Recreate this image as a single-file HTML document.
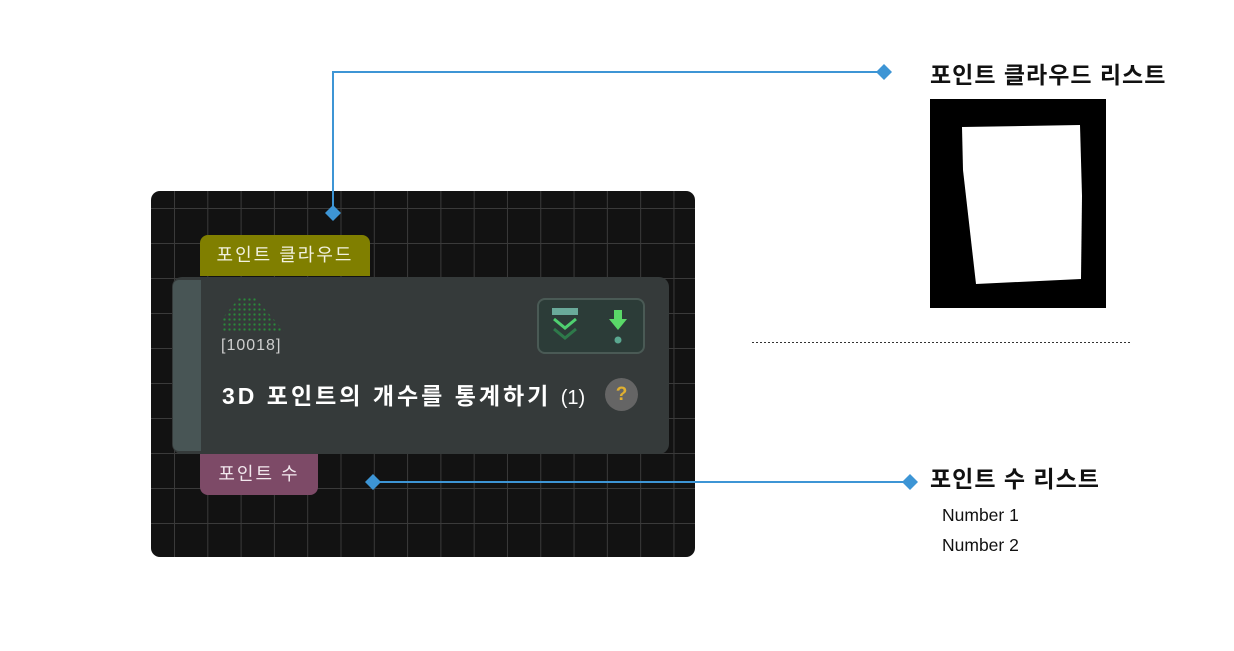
<!DOCTYPE html>
<html><head><meta charset="utf-8"><style>
body{margin:0;width:1234px;height:651px;background:#fff;position:relative;overflow:hidden;font-family:"Liberation Sans","Noto Sans CJK KR",sans-serif}
.a{position:absolute}
#panel{left:151px;top:191px;width:544px;height:366px;border-radius:9px;background-color:#121212;
background-image:linear-gradient(90deg,#3a3a3a 1px,transparent 1px),linear-gradient(#3a3a3a 1px,transparent 1px);
background-size:33.3px 35px;background-position:23px 17px;overflow:hidden}
</style></head><body>
<div id="panel" class="a"></div>
<div class="a" style="left:200px;top:235px;width:170px;height:41px;background:#807f00;border-radius:8px 8px 0 0;color:#f2f2e0;font-size:18px;letter-spacing:2px;line-height:40px;text-align:center">포인트 클라우드</div>
<div class="a" style="left:200px;top:454px;width:118px;height:41px;background:#7d4a67;border-radius:0 0 8px 8px;color:#f2e8ee;font-size:18px;letter-spacing:2px;line-height:40px;text-align:center">포인트 수</div>
<div class="a" style="left:172px;top:277px;width:497px;height:177px;background:#353a3a;border-radius:10px;overflow:hidden">
 <div class="a" style="left:1px;top:3px;width:28px;height:171px;background:#485555;border-radius:6px 0 0 6px"></div>
 <div class="a" style="left:50px;top:20px;width:64px;height:36px;background:radial-gradient(circle,#2a8a3a 1px,transparent 1.3px) 0 0/5px 5px;clip-path:polygon(28% 0,50% 0,100% 100%,0 100%,0 60%)"></div>
 <div class="a" style="left:49px;top:60px;color:#cfcfcf;font-size:16px;letter-spacing:1px">[10018]</div>
 <div class="a" style="left:50px;top:100px;color:#fff;font-size:23px;letter-spacing:3px;font-weight:bold;white-space:nowrap">3D 포인트의 개수를 통계하기 <span style="font-weight:normal;font-size:20px;letter-spacing:0">(1)</span></div>
 <div class="a" style="left:433px;top:101px;width:33px;height:33px;border-radius:50%;background:#656565;color:#e0b030;font-size:19px;font-weight:bold;text-align:center;line-height:33px">?</div>
 <div class="a" style="left:365px;top:21px;width:108px;height:56px;border:2px solid #4a5a55;border-radius:8px;background:#2c3c38;box-sizing:border-box">
  <svg width="108" height="56" style="position:absolute;left:-2px;top:-2px">
   <rect x="15" y="10" width="26" height="7" fill="#6aaa9a"/>
   <polyline points="17,21 28,30 39,21" fill="none" stroke="#4fd070" stroke-width="3"/>
   <polyline points="17,31 28,40 39,31" fill="none" stroke="#2e7a4a" stroke-width="3"/>
   <rect x="77" y="12" width="8" height="10" fill="#5ad868"/>
   <polygon points="72,21 90,21 81,32" fill="#5ad868"/>
   <circle cx="81" cy="42" r="3.5" fill="#5aa890"/>
  </svg>
 </div>
</div>
<svg class="a" style="left:0;top:0" width="1234" height="651">
 <g stroke="#3d95d5" stroke-width="2" fill="none">
  <polyline points="333,213 333,72 884,72"/>
  <line x1="373" y1="482" x2="910" y2="482"/>
 </g>
 <g fill="#3d95d5">
  <polygon points="333,205 341,213 333,221 325,213"/>
  <polygon points="884,64 892,72 884,80 876,72"/>
  <polygon points="373,474 381,482 373,490 365,482"/>
  <polygon points="910,474 918,482 910,490 902,482"/>
 </g>
 <rect x="930" y="99" width="176" height="209" fill="#000"/>
 <polygon points="962,127 1080,125 1082,196 1081,279 976,284 963,170" fill="#fff"/>
 <line x1="752" y1="342.5" x2="1132" y2="342.5" stroke="#333" stroke-width="1" stroke-dasharray="2,2"/>
</svg>
<div class="a" style="left:930px;top:56px;font-size:23px;letter-spacing:1px;font-weight:bold;color:#111;white-space:nowrap">포인트 클라우드 리스트</div>
<div class="a" style="left:930px;top:460px;font-size:23px;letter-spacing:1px;font-weight:bold;color:#111;white-space:nowrap">포인트 수 리스트</div>
<div class="a" style="left:942px;top:505px;font-size:17.5px;color:#111">Number 1</div>
<div class="a" style="left:942px;top:535px;font-size:17.5px;color:#111">Number 2</div>
</body></html>
